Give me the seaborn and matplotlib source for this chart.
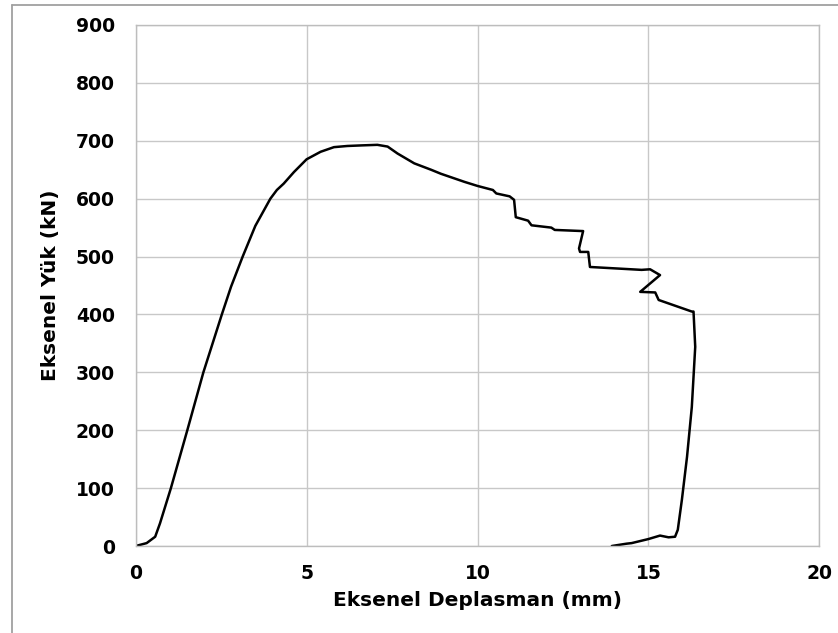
import matplotlib
matplotlib.use("Agg")
import matplotlib.pyplot as plt
from matplotlib.lines import Line2D
import seaborn as sns
import pandas as pd

# Data
deplasman = [0, 0.32, 0.57, 0.71, 1.03, 1.51, 1.98, 2.25, 2.52, 2.79, 3.13, 3.5, 3.94, 4.13, 4.33,
             4.63, 5.0, 5.41, 5.80, 6.19, 6.6, 7.07, 7.37, 7.66, 8.15, 8.64, 8.93, 9.62,
             10.0, 10.45, 10.55, 10.94, 11.07, 11.12, 11.48, 11.58, 12.16, 12.26,
             13.09, 12.97, 13.0, 13.24, 13.29, 14.8, 15.05, 15.34, 14.76, 15.2, 15.30,
             16.27, 16.32, 16.37, 16.27, 16.13, 15.98, 15.86, 15.78, 15.59, 15.34,
             15.0, 14.51, 14.36, 13.93]
yuk = [0, 5, 16, 39, 100, 200, 300, 350, 400, 448, 500, 553, 600, 615, 626,
       646, 668, 681, 689, 691, 692, 693, 690, 678, 661, 650, 643, 629,
       622, 615, 609, 604, 598, 568, 562, 554, 550, 546,
       544, 514, 508, 508, 482, 477, 478, 468, 439, 438, 425,
       405, 405, 344, 240, 154, 80, 28, 16, 15, 18,
       12, 5, 4, 0]

x_ticks = [0, 5, 10, 15, 20]
y_ticks = [0, 100, 200, 300, 400, 500, 600, 700, 800, 900]

df = pd.DataFrame({"x": deplasman, "y": yuk})

sns.set_theme(style="whitegrid")
plt.rcParams["font.family"] = ["DejaVu Sans"]

fig = plt.figure(figsize=(8.38, 6.33), dpi=100)
ax = fig.add_axes([135.7 / 838, 1 - 546 / 633, (819.3 - 135.7) / 838, (546 - 25) / 633])

sns.lineplot(data=df, x="x", y="y", sort=False, estimator=None, color="black",
             linewidth=1.8, ax=ax)

ax.set_xlim(0, 20)
ax.set_ylim(0, 900)
ax.set_xticks(x_ticks)
ax.set_yticks(y_ticks)
ax.grid(True, color="#c8c8c8", linewidth=1.0)
for s in ax.spines.values():
    s.set_visible(True)
    s.set_color("#bdbdbd")
    s.set_linewidth(1.0)
ax.tick_params(axis="both", length=0, labelsize=13.5, colors="black")
ax.tick_params(axis="y", pad=15)
ax.tick_params(axis="x", pad=13)
for lab in ax.get_xticklabels() + ax.get_yticklabels():
    lab.set_fontweight("bold")

ax.set_xlabel("Eksenel Deplasman (mm)", fontsize=14.5, fontweight="bold", labelpad=6,
              color="black")
ax.set_ylabel("Eksenel Yük (kN)", fontsize=14.5, fontweight="bold", labelpad=11,
              color="black")

# L-shaped frame of the picture (left and top)
fig.add_artist(Line2D([12 / 838, 12 / 838], [0, 1 - 5 / 633], color="#a0a0a0", lw=1.3,
                      transform=fig.transFigure))
fig.add_artist(Line2D([12 / 838, 1], [1 - 5 / 633, 1 - 5 / 633], color="#a0a0a0", lw=1.3,
                      transform=fig.transFigure))

fig.savefig("out.png", dpi=100)
